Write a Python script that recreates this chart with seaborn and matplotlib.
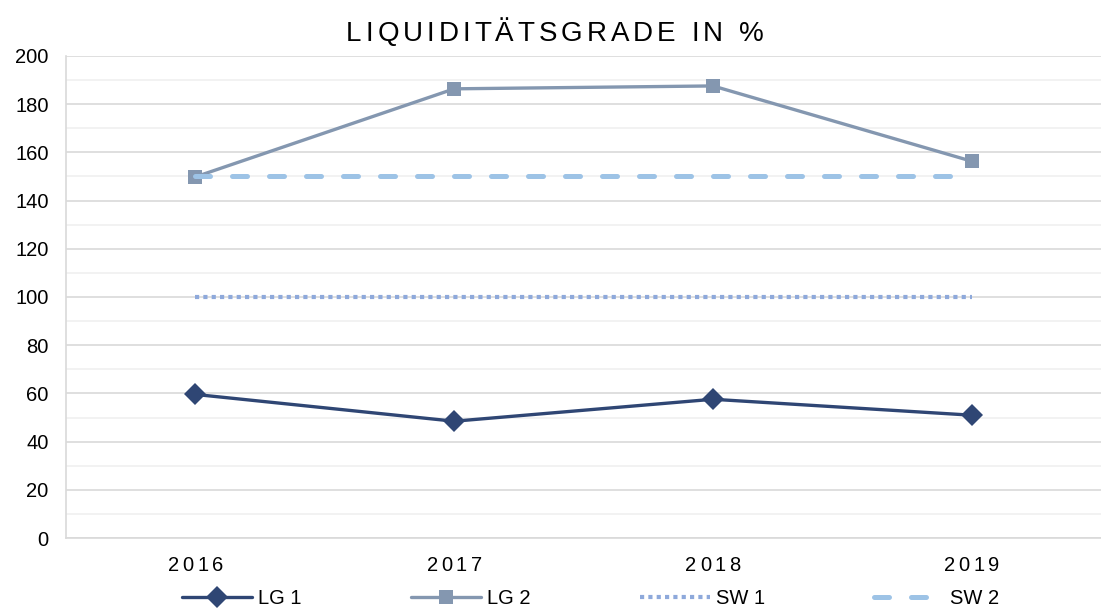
import pandas as pd
import matplotlib.pyplot as plt
import matplotlib.transforms as mtransforms
import seaborn as sns
from matplotlib.ticker import MultipleLocator
from matplotlib.font_manager import FontProperties

sns.set_style("white")
plt.rcParams['font.family'] = ['Liberation Sans', 'DejaVu Sans']
plt.rcParams['text.color'] = 'black'
plt.rcParams['xtick.color'] = 'black'
plt.rcParams['ytick.color'] = 'black'

# Données
jahre = ['2016', '2017', '2018', '2019']
lg1 = [59.6, 48.5, 57.6, 51.0]
lg2 = [149.8, 186.3, 187.5, 156.3]
sw1 = [100, 100, 100, 100]
sw2 = [150, 150, 150, 150]
titel = 'LIQUIDITÄTSGRADE IN %'


def gesperrt(fig, x, y, s, size, gap, transform):
    """Texte avec espacement des lettres (en pixels)"""
    r = fig.canvas.get_renderer()
    prop = FontProperties(family=['Liberation Sans', 'DejaVu Sans'], size=size)
    w = lambda t: r.get_text_width_height_descent(t, prop, ismath=False)[0]
    base = w('||')
    adv = [w('|' + c + '|') - base for c in s]
    total = sum(adv) + gap * (len(s) - 1)
    x0, y0 = transform.transform((x, y))
    cur = x0 - total / 2
    for c, a in zip(s, adv):
        if c != ' ':
            fig.text(cur, y0, c, transform=mtransforms.IdentityTransform(),
                     ha='left', va='baseline', fontproperties=prop, color='black')
        cur += a + gap


fig = plt.figure(figsize=(11.01, 6.13), dpi=100)
ax = fig.add_axes([0.06, 0.122, 0.94, 0.787])

sns.lineplot(x=jahre, y=lg1, ax=ax, color='#2F4674', lw=2.4, marker='D',
             markersize=11, markeredgewidth=0, label='LG 1')
sns.lineplot(x=jahre, y=lg2, ax=ax, color='#8497B0', lw=2.4, marker='s',
             markersize=10, markeredgewidth=0, label='LG 2')
sns.lineplot(x=jahre, y=sw1, ax=ax, color='#8EA9DB', lw=3, label='SW 1')
sns.lineplot(x=jahre, y=sw2, ax=ax, color='#9DC3E6', lw=3.6, label='SW 2')
ax.lines[2].set_dashes((1, 1))
ax.lines[3].set_dashes((3, 4.4))
ax.lines[3].set_dash_capstyle('round')

ax.set_xlim(-0.5, 3.5)
ax.set_ylim(0, 200)
ax.yaxis.set_major_locator(MultipleLocator(20))
ax.yaxis.set_minor_locator(MultipleLocator(10))
ax.grid(True, which='major', axis='y', color='#d9d9d9', lw=1.2)
ax.grid(True, which='minor', axis='y', color='#f0f0f0', lw=1.2)
ax.set_axisbelow(True)

for s in ['top', 'right']:
    ax.spines[s].set_visible(False)
for s in ['left', 'bottom']:
    ax.spines[s].set_color('#d9d9d9')
    ax.spines[s].set_linewidth(1.2)

ax.set_xticks([0, 1, 2, 3])
ax.set_xticklabels([])
ax.set_xticks([0.5, 1.5, 2.5], minor=True)
ax.tick_params(axis='x', which='major', length=0)
ax.tick_params(axis='x', which='minor', length=6, color='#d9d9d9', width=1.2)
ax.tick_params(axis='y', which='major', length=3.6, pad=9, labelsize=14.5,
               color='#d9d9d9', width=1.2)
ax.tick_params(axis='y', which='minor', length=3, color='#f0f0f0', width=1.2)

# étiquettes de l'axe x et titre avec espacement
trans_x = mtransforms.blended_transform_factory(ax.transData, fig.transFigure)
for i, j in enumerate(jahre):
    gesperrt(fig, i, 0.0685, j, 14.5, 3.5, trans_x)
gesperrt(fig, 0.504, 0.933, titel, 20, 4.0, fig.transFigure)

ax.legend(loc='center', bbox_to_anchor=(0.507, -0.125), ncol=4,
          frameon=False, fontsize=14.5, handlelength=3.5, columnspacing=5.4,
          handletextpad=0.3)
ax.set_xlabel('')

plt.savefig('out.png', dpi=100)
